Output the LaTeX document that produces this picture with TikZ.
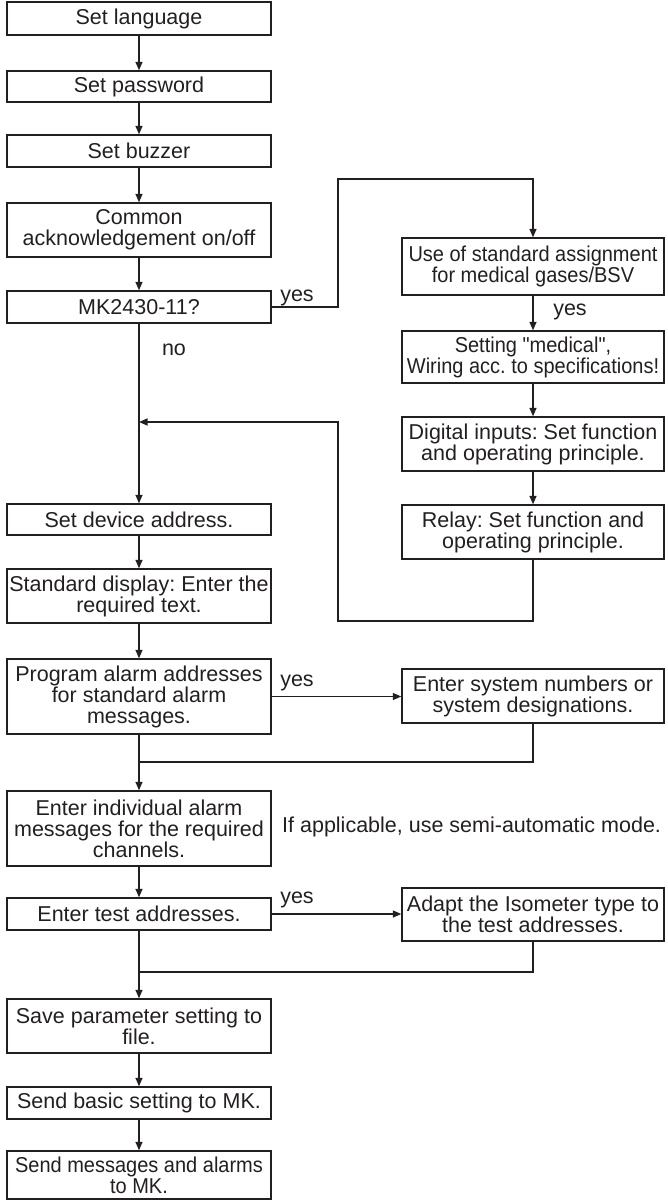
\documentclass[tikz,border=0pt]{standalone}
\usepackage{fontspec}
\setmainfont{Liberation Sans}
\newfontfamily\condfont[FakeStretch=0.93]{Liberation Sans}
\usetikzlibrary{arrows.meta}
\definecolor{ink}{RGB}{35,31,32}
\frenchspacing
\begin{document}
\begin{tikzpicture}[x=1pt,y=-1pt,
  box/.style={draw=ink, line width=1.4pt, text=ink, inner sep=0pt, align=center,
    font=\fontsize{21.5pt}{21pt}\selectfont},
  cond/.style={font=\condfont\fontsize{21.5pt}{21pt}\selectfont},
  lbox/.style={box, minimum width=264pt},
  rbox/.style={box, minimum width=262pt},
  lbl/.style={text=ink, inner sep=0pt, font=\fontsize{21.5pt}{21pt}\selectfont},
  conn/.style={draw=ink, line width=1.4pt},
  arr/.style={conn, -{Triangle[length=8.5pt,width=7pt]}}
]
\useasboundingbox (0,0) rectangle (667,1200);

% left column
\node[lbox, minimum height=33pt] (L1) at (139,18.5) {Set language};
\node[lbox, minimum height=31pt] (L2) at (139,86.5) {Set password};
\node[lbox, minimum height=32pt] (L3) at (139,151) {Set buzzer};
\node[lbox, minimum height=54pt] (L4) at (139,230) {Common\\acknowledgement on/off};
\node[lbox, minimum height=32pt] (L5) at (139,307) {MK2430-11?};
\node[lbox, minimum height=31pt] (L6) at (139,519.5) {Set device address.};
\node[lbox, minimum height=54pt] (L7) at (139,596) {Standard display: Enter the\\required text.};
\node[lbox, minimum height=75pt] (L8) at (139,696.5) {Program alarm addresses\\for standard alarm\\messages.};
\node[lbox, minimum height=75pt] (L9) at (139,828.5) {Enter individual alarm\\messages for the required\\channels.};
\node[lbox, minimum height=32pt] (L10) at (139,914) {Enter test addresses.};
\node[lbox, minimum height=54pt] (L11) at (139,1026) {Save parameter setting to\\file.};
\node[lbox, minimum height=32pt] (L12) at (139,1103) {Send basic setting to MK.};
\node[lbox, cond, minimum height=48pt] (L13) at (139,1175) {Send messages and alarms\\to MK.};

% right column
\node[rbox, cond, minimum height=57pt] (R1) at (533,266.5) {Use of standard assignment\\for medical gases/BSV};
\node[rbox, cond, minimum height=52pt] (R2) at (533,357) {Setting "medical",\\Wiring acc. to specifications!};
\node[rbox, minimum height=54pt] (R3) at (533,444) {Digital inputs: Set function\\and operating principle.};
\node[rbox, minimum height=54pt] (R4) at (533,532) {Relay: Set function and\\operating principle.};
\node[rbox, minimum height=54pt] (R5) at (533,696) {Enter system numbers or\\system designations.};
\node[rbox, minimum height=53pt] (R6) at (533,914.5) {Adapt the Isometer type to\\the test addresses.};

% labels
\node[lbl, anchor=base] (y1) at (297,301) {yes};
\node[lbl, anchor=base] (y2) at (570,315) {yes};
\node[lbl, anchor=base] (n1) at (174,355) {no};
\node[lbl, anchor=base] (y3) at (297,686) {yes};
\node[lbl, anchor=base] (y4) at (297,903) {yes};
\node[lbl, anchor=base west] (note) at (282,832) {If applicable, use semi-automatic mode.};

% helper coordinates
\coordinate (c1) at (338,307);
\coordinate (c2) at (338,179);
\coordinate (c3) at (338,621);
\coordinate (c4) at (338,422);
\coordinate (m1) at (139,422);
\coordinate (j1) at (139,762);
\coordinate (j2) at (139,972);

% main chain
\draw[arr] (L1) -- (L2);
\draw[arr] (L2) -- (L3);
\draw[arr] (L3) -- (L4);
\draw[arr] (L4) -- (L5);
\draw[arr] (L5) -- (L6);
\draw[arr] (L6) -- (L7);
\draw[arr] (L7) -- (L8);
\draw[arr] (L8) -- (L9);
\draw[arr] (L9) -- (L10);
\draw[arr] (L10) -- (L11);
\draw[arr] (L11) -- (L12);
\draw[arr] (L12) -- (L13);

% yes branch from MK2430-11?
\draw[arr] (L5.east) -- (c1) -- (c2) -| (R1.north);
\draw[arr] (R1) -- (R2);
\draw[arr] (R2) -- (R3);
\draw[arr] (R3) -- (R4);
\draw[arr] (R4.south) |- (c3) -- (c4) -- (m1);

% system numbers branch
\draw[arr] (L8.east) -- (L8.east -| R5.west);
\draw[conn] (R5.south) |- (j1);

% test addresses branch
\draw[arr] (L10.east) -- (L10.east -| R6.west);
\draw[conn] (R6.south) |- (j2);
\end{tikzpicture}
\end{document}
